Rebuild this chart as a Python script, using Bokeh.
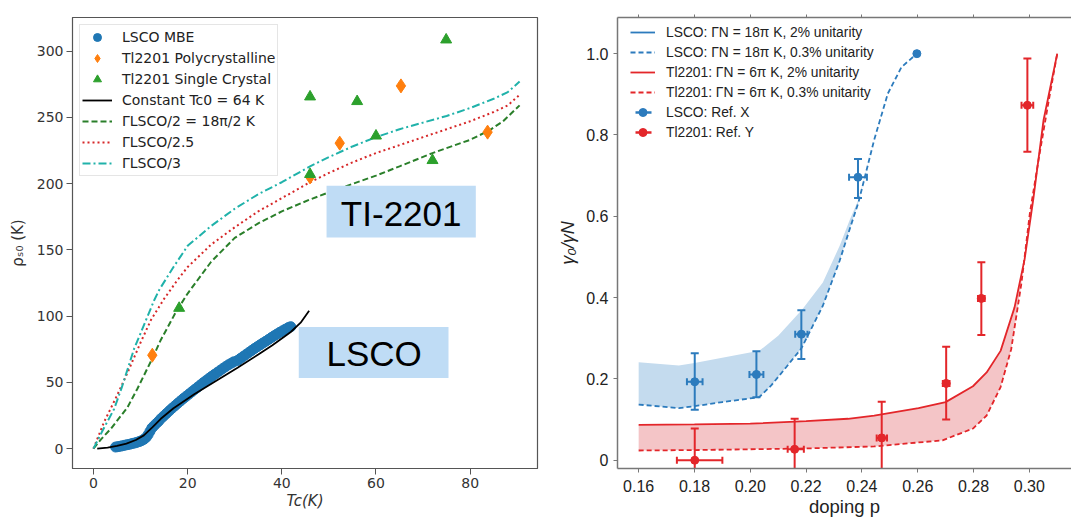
import math
from bokeh.plotting import figure
from bokeh.layouts import row
from bokeh.models import (Legend, LegendItem, LinearAxis, FixedTicker,
                          BoxAnnotation, Label, Range1d)
from bokeh.embed import file_html
from bokeh.resources import INLINE

# ---------------- left panel data ----------------
lsco_tc = [4.7, 5.2, 5.7, 6.2, 6.7, 7.2, 7.7, 8.2, 8.7, 9.2, 9.7, 10.2, 10.7, 11.2, 11.6, 12.0,
           12.4, 12.8, 13.3, 13.8, 14.3, 14.9, 15.5, 16.1, 16.7, 17.3, 17.9, 18.5, 19.1, 19.7,
           20.3, 20.9, 21.5, 22.1, 22.7, 23.3, 23.9, 24.5, 25.1, 25.7, 26.3, 26.9, 27.5, 28.1,
           28.7, 29.3, 29.8, 30.6, 31.2, 31.8, 32.4, 33.0, 33.6, 34.2, 34.8, 35.4, 36.0, 36.6,
           37.2, 37.8, 38.4, 39.0, 39.6, 40.2, 40.8, 41.4, 41.9]
lsco_rho = [1.2, 1.5, 1.8, 2.2, 2.6, 3.0, 3.3, 3.8, 4.2, 4.7, 5.3, 6.0, 7.0, 8.5, 10.5, 13.0,
            15.5, 17.0, 18.8, 20.5, 22.5, 24.5, 26.5, 28.5, 30.5, 32.3, 34.2, 36.0, 37.8, 39.5,
            41.2, 42.9, 44.6, 46.3, 48.0, 49.7, 51.3, 52.9, 54.5, 56.0, 57.5, 59.0, 60.5, 61.9,
            63.3, 64.5, 65.5, 66.5, 68.0, 69.5, 71.0, 72.5, 74.0, 75.5, 76.9, 78.3, 79.7, 81.0,
            82.4, 83.8, 85.2, 86.5, 87.8, 89.0, 90.2, 91.3, 92.0]

poly_tc = [12.5, 46.0, 52.3, 65.3, 83.7]
poly_rho = [70.5, 205.0, 230.5, 273.7, 238.8]

sc_tc = [18.2, 46.0, 46.0, 56.0, 60.0, 72.0, 74.9]
sc_rho = [106.0, 207.0, 265.5, 262.0, 236.0, 217.5, 308.5]

const_tc = [0.8, 3.0, 5.0, 7.0, 9.0, 10.7, 12.5, 14.3, 17.0, 21.4, 26.0, 30.6, 35.0, 38.0,
            41.9, 44.0, 45.8]
const_rho = [0.0, 0.8, 2.0, 3.8, 6.5, 10.0, 16.0, 22.5, 30.5, 41.0, 51.0, 61.0, 71.0, 78.0,
             88.0, 95.0, 104.0]

g2_tc = [0.0, 1.6, 3.7, 7.2, 9.3, 12.5, 14.3, 17.5, 20.0, 25.0, 30.0, 35.0, 40.0, 46.0, 52.0,
         60.0, 65.0, 72.0, 80.0, 84.0, 87.0, 90.5]
g2_rho = [0.0, 7.0, 15.0, 31.0, 45.0, 68.0, 82.0, 103.0, 117.0, 141.0, 159.0, 170.0, 179.0,
          188.0, 196.0, 206.0, 213.0, 223.0, 233.0, 240.0, 247.0, 259.0]

g25_tc = [0.0, 2.25, 5.0, 7.2, 10.0, 12.2, 15.0, 17.8, 20.0, 25.0, 30.0, 35.0, 40.0, 46.0,
          50.0, 55.0, 60.0, 65.0, 70.0, 75.0, 80.0, 85.0, 88.0, 90.5]
g25_rho = [0.0, 20.0, 40.0, 57.0, 80.0, 97.0, 113.0, 127.0, 137.0, 154.0, 167.0, 179.0, 189.0,
           201.0, 208.0, 216.0, 223.0, 229.0, 235.0, 241.0, 247.0, 254.0, 259.0, 267.0]

g3_tc = [0.0, 2.0, 4.4, 6.0, 8.6, 10.0, 12.9, 14.0, 17.0, 20.0, 25.0, 30.0, 35.0, 40.0, 46.0,
         50.0, 55.0, 60.0, 65.0, 70.0, 75.0, 80.0, 85.0, 88.0, 90.5]
g3_rho = [0.0, 14.0, 30.0, 46.0, 75.0, 87.0, 112.0, 120.0, 137.0, 153.0, 168.0, 181.0, 192.0,
          201.0, 213.0, 220.0, 228.0, 235.0, 241.0, 246.0, 251.0, 257.0, 264.0, 269.0, 277.0]

left_xticks = [0, 20, 40, 60, 80]
left_yticks = [0, 50, 100, 150, 200, 250, 300]

# ---------------- right panel data ----------------
b2_p = [0.16, 0.1744, 0.18, 0.2032, 0.21, 0.2186, 0.226, 0.232, 0.2357, 0.2388,
        0.2444, 0.2493, 0.2542, 0.2597]
b2_y = [0.241, 0.233, 0.239, 0.269, 0.306, 0.371, 0.437, 0.527, 0.592, 0.641,
        0.788, 0.902, 0.967, 1.0]
b03_p = [0.16, 0.1744, 0.18, 0.19, 0.2032, 0.2075, 0.213, 0.2183, 0.226, 0.232, 0.2357,
         0.2388, 0.2444, 0.2493, 0.2542, 0.2597]
b03_y = [0.137, 0.128, 0.133, 0.143, 0.155, 0.184, 0.23, 0.275, 0.38, 0.49, 0.57,
         0.635, 0.788, 0.902, 0.967, 1.0]
r2_p = [0.16, 0.18, 0.2, 0.22, 0.235, 0.2444, 0.2603, 0.27, 0.2798, 0.2847, 0.2897, 0.2947,
        0.2983, 0.3014, 0.3051, 0.31]
r2_y = [0.087, 0.088, 0.09, 0.096, 0.102, 0.11, 0.128, 0.143, 0.182, 0.216, 0.269, 0.376,
        0.494, 0.641, 0.837, 1.0]
r03_p = [0.16, 0.18, 0.2, 0.22, 0.2444, 0.2689, 0.2798, 0.2847, 0.2897, 0.2935, 0.2972,
         0.3002, 0.3033, 0.307, 0.31]
r03_y = [0.024, 0.025, 0.027, 0.029, 0.034, 0.049, 0.078, 0.11, 0.18, 0.273, 0.437,
         0.608, 0.739, 0.886, 1.0]
lsco_end_p = [0.2597]
lsco_end_y = [1.0]

lx_p = [0.1801, 0.2022, 0.2183, 0.2386]
lx_y = [0.193, 0.211, 0.310, 0.696]
lx_ylo = [0.124, 0.155, 0.249, 0.645]
lx_yhi = [0.263, 0.268, 0.369, 0.741]
lx_plo = [0.1773, 0.1997, 0.2161, 0.2354]
lx_phi = [0.1829, 0.2047, 0.2205, 0.2418]

ty_p = [0.1801, 0.2159, 0.2471, 0.2702, 0.2828, 0.2993]
ty_y = [0.0, 0.027, 0.055, 0.189, 0.398, 0.873]
ty_ylo = [-0.078, -0.048, -0.034, 0.100, 0.308, 0.759]
ty_yhi = [0.078, 0.102, 0.144, 0.279, 0.487, 0.988]
ty_plo = [0.1737, 0.2134, 0.2453, 0.2690, 0.2816, 0.2972]
ty_phi = [0.1900, 0.2192, 0.2490, 0.2714, 0.2840, 0.3014]

right_xticks = [0.16, 0.18, 0.20, 0.22, 0.24, 0.26, 0.28, 0.30]
right_yticks = [0, 0.2, 0.4, 0.6, 0.8, 1.0]

# ---------------- left figure ----------------
BLUE, ORANGE, GREEN = "#1f77b4", "#ff7f0e", "#2ca02c"
p1 = figure(width=552, height=519, x_range=Range1d(-4.45, 94.3), y_range=Range1d(-15.0, 325.3),
            output_backend="svg", toolbar_location=None,
            min_border_left=72, min_border_right=15, min_border_top=17, min_border_bottom=49)
p1.grid.visible = False
p1.outline_line_color = "#555555"
p1.outline_line_width = 1.2
for ax in (p1.xaxis[0], p1.yaxis[0]):
    ax.axis_line_color = "#555555"
    ax.major_tick_line_color = "#555555"
    ax.major_tick_out = 6
    ax.major_tick_in = 0
    ax.minor_tick_line_color = None
    ax.major_label_text_font = "DejaVu Sans"
    ax.major_label_text_font_size = "14px"
    ax.major_label_text_color = "#333333"
    ax.axis_label_text_font = "DejaVu Sans"
    ax.axis_label_text_font_size = "15px"
    ax.axis_label_text_color = "#333333"
p1.xaxis.ticker = FixedTicker(ticks=left_xticks)
p1.yaxis.ticker = FixedTicker(ticks=left_yticks)
p1.xaxis.major_label_standoff = 3
p1.yaxis.major_label_standoff = 3
p1.yaxis.axis_label = "ρₛ₀ (K)"
p1.yaxis.axis_label_text_font_style = "normal"
p1.yaxis.axis_label_standoff = 7
p1.xaxis.axis_label = "Tc(K)"
p1.xaxis.axis_label_text_font_style = "italic"
p1.xaxis.axis_label_standoff = 1

r_lsco = p1.scatter(lsco_tc, lsco_rho, marker="circle", size=10, color=BLUE)
r_const = p1.line(const_tc, const_rho, color="black", line_width=1.8)
r_g2 = p1.line(g2_tc, g2_rho, color="#2a7f2a", line_width=2, line_dash="6 3")
r_g25 = p1.line(g25_tc, g25_rho, color="#d62728", line_width=2, line_dash="2 3")
r_g3 = p1.line(g3_tc, g3_rho, color="#20b2aa", line_width=2, line_dash="8 3 2 3")
r_poly = p1.scatter(poly_tc, poly_rho, marker="diamond", size=14, color=ORANGE)
r_sc = p1.scatter(sc_tc, sc_rho, marker="triangle", size=11, color=GREEN)

p1.add_layout(BoxAnnotation(left=49.5, right=81.2, bottom=159.3, top=198.3,
                            fill_color="#bfdcf5", fill_alpha=1.0, line_color=None))
p1.add_layout(BoxAnnotation(left=43.6, right=75.4, bottom=53.3, top=91.7,
                            fill_color="#bfdcf5", fill_alpha=1.0, line_color=None))
p1.add_layout(Label(x=65.35, y=177.7, text="TI-2201", text_align="center", text_baseline="middle",
                    text_font="Liberation Sans", text_font_size="35px", text_color="black"))
p1.add_layout(Label(x=59.6, y=71.5, text="LSCO", text_align="center", text_baseline="middle",
                    text_font="Liberation Sans", text_font_size="35px", text_color="black"))

leg1 = Legend(items=[
    LegendItem(label="LSCO MBE", renderers=[r_lsco]),
    LegendItem(label="Tl2201 Polycrystalline", renderers=[r_poly]),
    LegendItem(label="Tl2201 Single Crystal", renderers=[r_sc]),
    LegendItem(label="Constant Tc0 = 64 K", renderers=[r_const]),
    LegendItem(label="ΓLSCO/2 = 18π/2 K", renderers=[r_g2]),
    LegendItem(label="ΓLSCO/2.5", renderers=[r_g25]),
    LegendItem(label="ΓLSCO/3", renderers=[r_g3]),
], location="top_left", margin=7, padding=2, spacing=1, glyph_width=30, glyph_height=20,
    label_height=20, label_standoff=10, label_text_font="DejaVu Sans",
    label_text_font_size="14px", label_text_color="#222222", border_line_color="#cccccc",
    background_fill_alpha=0.9)
p1.add_layout(leg1)

# ---------------- right figure ----------------
RB, RR = "#2c7bbd", "#e3262a"
p2 = figure(width=519, height=519, x_range=Range1d(0.15242, 0.31511), y_range=Range1d(-0.0203, 1.0889),
            output_backend="svg", toolbar_location=None,
            min_border_left=65, min_border_right=0, min_border_top=17, min_border_bottom=49)
p2.grid.visible = False
p2.outline_line_color = None
AXC = "#777777"
p2.xaxis.ticker = FixedTicker(ticks=right_xticks)
p2.yaxis.ticker = FixedTicker(ticks=right_yticks)
p2.xaxis.major_label_overrides = {t: f"{t:.2f}" for t in right_xticks}
p2.yaxis.major_label_overrides = {0: "0", 1.0: "1.0"}
for ax in (p2.xaxis[0], p2.yaxis[0]):
    ax.axis_line_color = AXC
    ax.axis_line_width = 1.5
    ax.major_tick_line_color = AXC
    ax.major_tick_out = 4
    ax.major_tick_in = 0
    ax.minor_tick_line_color = None
    ax.major_label_text_font = "Liberation Sans"
    ax.major_label_text_font_size = "16px"
    ax.major_label_text_color = "#222222"
    ax.axis_label_text_font = "Liberation Sans"
    ax.axis_label_text_color = "#222222"
p2.xaxis.major_label_standoff = 7
p2.yaxis.major_label_standoff = 5
p2.yaxis.axis_label = "γ₀/γN"
p2.yaxis.axis_label_text_font_size = "18px"
p2.yaxis.axis_label_text_font_style = "italic"
p2.yaxis.axis_label_standoff = 5
p2.xaxis.axis_label = "doping p"
p2.xaxis.axis_label_text_font_size = "18.5px"
p2.xaxis.axis_label_text_font_style = "normal"
p2.xaxis.axis_label_standoff = 1
top_ax = LinearAxis(ticker=FixedTicker(ticks=right_xticks),
                    major_label_overrides={t: "" for t in right_xticks},
                    major_label_text_font_size="1px", axis_label_standoff=0,
                    major_label_standoff=0, major_tick_out=3, major_tick_in=0,
                    minor_tick_line_color=None, axis_line_color=AXC, axis_line_width=1.5,
                    major_tick_line_color=AXC)
p2.add_layout(top_ax, "above")

p2.patch(b2_p + b03_p[::-1], b2_y + b03_y[::-1], fill_color="#c4dbee", line_color=None)
p2.patch(r2_p + r03_p[::-1], r2_y + r03_y[::-1], fill_color="#f4c5c7", line_color=None)
r_b2 = p2.line(b2_p, b2_y, color=RB, line_width=1.8, visible=False)
r_b03 = p2.line(b03_p, b03_y, color=RB, line_width=1.8, line_dash="5 3")
r_r2 = p2.line(r2_p, r2_y, color=RR, line_width=1.8)
r_r03 = p2.line(r03_p, r03_y, color=RR, line_width=1.8, line_dash="5 3")
p2.scatter(lsco_end_p, lsco_end_y, marker="circle", size=8, color=RB)

for (pp, yy, ylo, yhi, plo, phi, c) in ((lx_p, lx_y, lx_ylo, lx_yhi, lx_plo, lx_phi, RB),
                                        (ty_p, ty_y, ty_ylo, ty_yhi, ty_plo, ty_phi, RR)):
    p2.segment(x0=pp, y0=ylo, x1=pp, y1=yhi, color=c, line_width=2)
    p2.segment(x0=plo, y0=yy, x1=phi, y1=yy, color=c, line_width=2)
    p2.scatter(pp, ylo, marker="dash", size=8, line_width=2, color=c)
    p2.scatter(pp, yhi, marker="dash", size=8, line_width=2, color=c)
    p2.scatter(plo, yy, marker="dash", angle=math.pi / 2, size=7, line_width=2, color=c)
    p2.scatter(phi, yy, marker="dash", angle=math.pi / 2, size=7, line_width=2, color=c)

r_lx = p2.scatter(lx_p, lx_y, marker="circle", size=8, color=RB)
r_ty = p2.scatter(ty_p, ty_y, marker="circle", size=8, color=RR)
# legend-only horizontal bars (short dash centred in the legend glyph)
r_lx_bar = p2.line(lx_p, lx_y, color=RB, line_width=2.5, line_dash="16 40", line_dash_offset=-5,
                   visible=False)
r_ty_bar = p2.line(ty_p, ty_y, color=RR, line_width=2.5, line_dash="16 40", line_dash_offset=-5,
                   visible=False)

leg2 = Legend(items=[
    LegendItem(label="LSCO: ΓN = 18π K, 2% unitarity", renderers=[r_b2]),
    LegendItem(label="LSCO: ΓN = 18π K, 0.3% unitarity", renderers=[r_b03]),
    LegendItem(label="Tl2201: ΓN = 6π K, 2% unitarity", renderers=[r_r2]),
    LegendItem(label="Tl2201: ΓN = 6π K, 0.3% unitarity", renderers=[r_r03]),
    LegendItem(label="LSCO: Ref. X", renderers=[r_lx_bar, r_lx]),
    LegendItem(label="Tl2201: Ref. Y", renderers=[r_ty_bar, r_ty]),
], location=(13, 326), padding=7, spacing=0, glyph_width=25, glyph_height=20,
    label_height=20, label_standoff=11, label_text_font="Liberation Sans",
    label_text_font_size="13.8px", label_text_color="#222222", border_line_color=None,
    background_fill_alpha=0.0)
p2.add_layout(leg2)

layout = row(p1, p2)
open("out.html", "w").write(file_html(layout, INLINE))
